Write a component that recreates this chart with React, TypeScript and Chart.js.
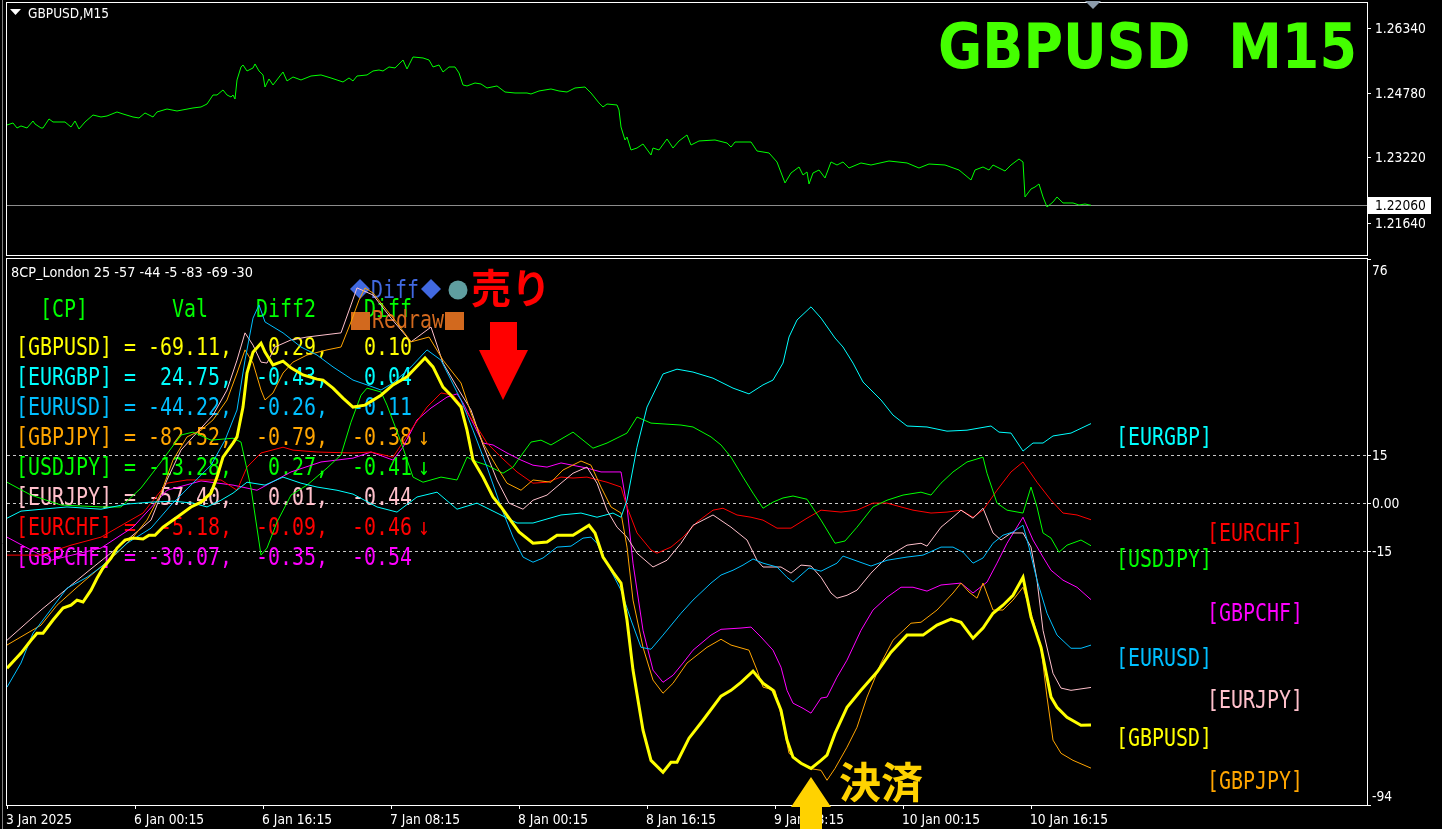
import React, { useEffect, useRef } from 'react';
import { Chart, registerables } from 'chart.js';

Chart.register(...registerables);

// ---------------- data ----------------
const xTickBars = [0, 64, 128, 192, 256, 320, 384, 448, 512];
const xTickLabels = ['3 Jan 2025', '6 Jan 00:15', '6 Jan 16:15', '7 Jan 08:15', '8 Jan 00:15', '8 Jan 16:15', '9 Jan 08:15', '10 Jan 00:15', '10 Jan 16:15'];
const priceTicks = [1.2634, 1.2478, 1.2322, 1.2164];
const currentPrice = 1.2206;
const indicatorTicks = [76, 15, 0, -15, -94];
const indicatorTickLabels = ['76', '15', '0.00', '-15', '-94'];
const levelValues = [15, 0, -15];

const pricePts = [[0,1.24002],[3,1.24050],[5,1.23929],[7,1.23978],[10,1.23929],[13,1.24098],[14,1.24026],[17,1.23929],[18,1.23929],[21,1.24147],[23,1.24074],[29,1.24074],[32,1.23953],[34,1.24098],[36,1.23905],[39,1.24074],[43,1.24243],[47,1.24195],[50,1.24219],[55,1.24316],[58,1.24268],[63,1.24195],[66,1.24171],[69,1.24292],[73,1.24195],[75,1.24316],[80,1.24388],[85,1.24340],[93,1.24413],[97,1.24437],[100,1.24509],[103,1.24727],[105,1.24727],[108,1.24848],[110,1.24727],[112,1.24679],[113,1.24727],[114,1.24630],[115,1.25090],[117,1.25404],[118,1.25452],[120,1.25307],[123,1.25380],[124,1.25477],[126,1.25307],[128,1.25211],[129,1.24920],[131,1.25114],[133,1.24969],[138,1.25283],[140,1.25066],[143,1.25162],[147,1.25090],[152,1.25186],[157,1.25211],[162,1.25138],[168,1.25041],[171,1.25138],[173,1.25066],[175,1.25186],[180,1.25211],[183,1.25307],[186,1.25331],[188,1.25307],[191,1.25404],[194,1.25380],[198,1.25573],[200,1.25356],[203,1.25646],[208,1.25622],[211,1.25573],[213,1.25404],[216,1.25452],[218,1.25283],[221,1.25404],[224,1.25404],[226,1.25259],[228,1.24969],[230,1.24945],[234,1.25017],[237,1.24993],[240,1.24896],[245,1.24945],[249,1.24799],[254,1.24775],[260,1.24775],[262,1.24751],[266,1.24824],[272,1.24872],[276,1.24824],[280,1.24799],[284,1.24896],[289,1.24920],[292,1.24775],[296,1.24534],[298,1.24437],[300,1.24509],[305,1.24485],[306,1.24364],[307,1.23953],[309,1.23639],[310,1.23711],[312,1.23397],[315,1.23445],[318,1.23542],[322,1.23276],[323,1.23445],[326,1.23397],[330,1.23663],[333,1.23445],[336,1.23615],[340,1.23760],[342,1.23518],[346,1.23615],[354,1.23639],[360,1.23566],[362,1.23469],[364,1.23590],[372,1.23590],[375,1.23373],[381,1.23325],[385,1.23107],[389,1.22599],[392,1.22841],[396,1.22986],[398,1.22793],[400,1.22865],[401,1.22575],[403,1.22841],[406,1.22913],[409,1.22720],[412,1.23107],[415,1.23034],[418,1.23107],[421,1.22962],[427,1.23083],[432,1.23034],[441,1.23131],[450,1.23083],[456,1.22962],[461,1.23058],[469,1.23034],[476,1.22913],[479,1.22793],[482,1.22672],[484,1.22913],[488,1.22986],[491,1.22913],[493,1.23034],[499,1.22889],[502,1.23034],[506,1.23179],[508,1.23107],[509,1.22261],[512,1.22454],[514,1.22502],[516,1.22575],[518,1.22261],[520,1.22019],[523,1.22140],[525,1.22261],[528,1.22116],[533,1.22116],[536,1.22067],[539,1.22091],[542,1.22060]];

const gbpusd = [[0,-51.4],[7,-46.7],[12,-42.7],[15,-40.5],[18,-40.5],[23,-36.4],[28,-32.7],[32,-31.8],[35,-30.2],[38,-30.8],[42,-27.1],[45,-23.4],[48,-20.2],[52,-17.1],[55,-14.0],[59,-11.5],[63,-10.9],[68,-11.2],[71,-10.0],[74,-10.0],[78,-7.5],[85,-4.4],[92,-1.2],[97,0.3],[102,3.1],[105,8.1],[108,14.3],[113,18.7],[115,20.6],[118,29.9],[120,40.5],[123,47.0],[127,49.8],[129,47.0],[133,43.0],[138,44.2],[142,42.1],[148,39.9],[155,38.6],[158,38.3],[163,35.8],[168,32.7],[173,29.9],[179,30.5],[187,33.6],[193,36.8],[200,39.3],[209,45.2],[213,42.4],[218,36.1],[222,33.6],[227,29.9],[230,22.7],[233,13.4],[238,8.1],[243,1.9],[247,-1.2],[251,-4.7],[256,-9.0],[263,-12.5],[270,-12.1],[275,-10.0],[283,-10.0],[291,-6.9],[294,-9.3],[298,-16.8],[303,-21.5],[307,-24.9],[310,-36.4],[313,-52.0],[318,-70.7],[322,-80.1],[328,-83.8],[332,-80.7],[335,-80.7],[341,-73.2],[348,-67.6],[357,-60.1],[362,-58.3],[367,-55.8],[373,-52.3],[378,-56.1],[383,-58.3],[387,-64.5],[390,-73.8],[393,-79.1],[397,-81.0],[402,-82.6],[407,-80.1],[410,-78.5],[414,-71.7],[420,-63.6],[427,-58.3],[435,-52.6],[442,-46.4],[450,-41.1],[458,-41.1],[465,-38.0],[472,-36.1],[477,-37.1],[483,-42.1],[488,-38.9],[493,-34.3],[498,-31.8],[503,-28.7],[508,-23.1],[512,-35.5],[517,-44.9],[522,-60.4],[525,-63.6],[530,-66.7],[537,-69.2],[542,-69.11]];

const eurgbp = [[0,-4.7],[7,-2.5],[30,-1.2],[47,-1.9],[60,-0.3],[72,0.3],[83,0.6],[93,0],[100,-1.2],[107,0.9],[113,3.1],[120,6.5],[129,5.6],[138,8.1],[147,6.2],[155,5.0],[165,4.0],[173,2.8],[185,-1.2],[195,-2.8],[205,1.9],[215,3.4],[225,-1.9],[235,0],[245,-3.1],[255,-6.2],[263,-6.2],[277,-3.7],[287,-3.1],[295,-4.4],[303,-3.1],[307,-4.4],[310,0.9],[315,17.4],[320,29.9],[328,40.2],[335,41.7],[343,40.8],[353,38.9],[363,35.8],[371,34.0],[378,36.8],[383,38.3],[388,43.6],[391,51.7],[395,57.0],[402,61.1],[407,57.6],[414,51.4],[418,48.6],[423,43.6],[428,37.7],[437,32.1],[443,27.4],[450,24.0],[460,23.7],[470,22.4],[480,22.7],[492,24.0],[496,22.1],[502,21.8],[508,16.2],[513,18.7],[518,18.7],[523,20.9],[532,21.8],[542,24.75]];

const eurusd = [[0,-57.3],[7,-49.8],[13,-40.5],[30,-26.5],[40,-23.1],[47,-19.9],[60,-12.5],[72,-7.8],[82,-0.6],[92,5.6],[102,11.8],[109,19.6],[115,29.0],[119,44.5],[123,57.6],[126,61.7],[129,56.4],[138,53.0],[147,48.6],[155,46.1],[163,42.4],[173,38.3],[180,36.8],[187,35.2],[193,37.4],[202,42.4],[210,47.7],[217,44.5],[222,38.3],[227,32.1],[233,22.7],[240,11.2],[247,-1.2],[253,-10.6],[258,-16.8],[263,-18.4],[268,-17.1],[275,-13.7],[282,-13.4],[288,-10.9],[292,-10.6],[295,-12.5],[300,-18.7],[307,-27.1],[312,-36.4],[317,-44.9],[322,-45.5],[328,-41.1],[337,-34.3],[343,-30.2],[352,-24.9],[357,-22.4],[363,-20.9],[368,-19.3],[373,-17.4],[378,-18.7],[385,-19.9],[390,-23.1],[393,-24.6],[397,-22.4],[401,-20.2],[407,-21.2],[415,-18.7],[418,-16.5],[432,-19.6],[440,-17.8],[450,-16.8],[458,-16.2],[467,-13.7],[473,-13.7],[478,-15.3],[483,-18.7],[488,-17.1],[493,-12.5],[498,-10.0],[503,-9.0],[508,-6.9],[511,-13.7],[515,-24.0],[520,-34.3],[525,-41.1],[532,-45.2],[537,-45.2],[542,-44.22]];

const gbpjpy = [[0,-44.2],[17,-38.0],[25,-31.8],[35,-26.2],[45,-20.9],[55,-15.6],[63,-10.6],[70,-5.3],[77,3.1],[83,13.4],[90,20.6],[97,22.7],[103,25.9],[110,32.1],[115,40.5],[119,47.7],[123,43.6],[127,35.2],[129,32.1],[133,34.3],[138,40.5],[143,43.9],[150,46.1],[160,47.7],[167,48.6],[172,56.4],[176,63.2],[179,67.0],[183,65.4],[195,56.1],[202,50.2],[211,51.7],[218,44.5],[227,37.4],[232,28.0],[238,18.7],[245,11.2],[250,6.2],[257,4.0],[263,7.2],[272,6.5],[278,10.3],[287,13.1],[292,11.8],[297,5.0],[302,-1.2],[307,-3.1],[310,-13.7],[313,-30.2],[318,-44.9],[323,-55.1],[328,-59.2],[333,-56.1],[340,-49.8],[350,-44.9],[357,-42.4],[362,-44.2],[371,-45.8],[375,-52.0],[378,-57.3],[384,-58.3],[388,-68.5],[391,-77.9],[397,-80.7],[401,-82.6],[407,-83.2],[410,-86.3],[414,-82.6],[420,-76.0],[425,-69.8],[430,-60.4],[437,-49.8],[443,-42.7],[452,-37.4],[457,-37.1],[465,-33.3],[473,-28.0],[477,-24.9],[481,-27.7],[485,-29.6],[488,-24.9],[493,-33.3],[498,-33.3],[503,-30.2],[508,-26.2],[512,-34.3],[517,-44.9],[520,-60.4],[523,-73.8],[527,-77.9],[533,-80.1],[542,-82.52]];

const usdjpy = [[0,6.5],[12,2.5],[27,-0.6],[47,-1.2],[57,-1.2],[67,4.7],[77,12.8],[87,21.2],[93,22.1],[102,19.6],[113,20.2],[117,19.0],[122,4.7],[127,-16.2],[130,-14.0],[135,-5.9],[142,2.5],[150,5.6],[160,10.9],[167,15.0],[172,25.2],[177,33.6],[180,35.8],[187,34.6],[190,30.5],[197,19.0],[203,8.1],[208,6.5],[217,8.1],[225,7.2],[230,14.3],[235,12.8],[240,11.8],[248,9.3],[253,11.2],[258,15.6],[262,19.0],[267,19.6],[272,18.1],[283,22.1],[293,17.1],[300,18.7],[310,21.8],[315,26.8],[322,24.9],[337,24.3],[343,23.7],[352,20.6],[357,18.1],[362,14.3],[368,8.1],[373,3.1],[378,-1.6],[383,0.3],[388,1.6],[393,2.2],[400,1.2],[407,-5.3],[414,-12.5],[419,-11.8],[425,-7.5],[433,-1.2],[440,0.9],[448,2.5],[457,3.4],[462,2.5],[467,6.2],[473,9.7],[480,12.8],[488,14.3],[490,9.3],[495,0],[500,-2.2],[508,-3.1],[512,5.0],[515,-1.2],[518,-9.3],[522,-10.9],[526,-15.3],[530,-13.1],[537,-11.5],[542,-13.28]];

const eurjpy = [[0,-42.7],[17,-33.3],[40,-21.5],[60,-11.5],[72,-5.3],[80,7.2],[87,16.5],[93,20.6],[103,27.4],[110,35.2],[115,44.5],[119,53.0],[123,49.2],[127,43.9],[130,43.6],[134,48.6],[142,50.8],[150,51.7],[167,53.0],[172,61.7],[175,67.0],[183,64.8],[192,57.6],[202,50.2],[212,54.8],[218,43.6],[225,36.1],[232,29.0],[238,18.1],[245,7.2],[251,0],[258,-1.9],[263,0.9],[270,2.5],[277,6.2],[283,9.3],[290,11.2],[295,6.2],[300,-2.2],[305,-7.5],[310,-10.6],[315,-15.6],[323,-19.9],[330,-17.8],[337,-12.5],[343,-6.9],[353,-3.7],[362,-7.5],[370,-11.5],[375,-17.8],[378,-19.9],[387,-19.9],[392,-21.8],[397,-19.3],[402,-19.6],[407,-23.1],[412,-28.0],[415,-29.6],[420,-28.7],[425,-27.1],[432,-21.8],[440,-16.8],[450,-13.1],[457,-12.5],[460,-13.4],[467,-7.5],[473,-4.4],[477,-2.2],[483,-4.7],[488,-1.6],[493,-9.3],[497,-11.5],[502,-9.3],[508,-9.3],[512,-13.7],[515,-24.0],[518,-39.6],[523,-53.0],[527,-57.6],[532,-58.3],[542,-57.40]];

const eurchf = [[0,-16.2],[17,-16.2],[32,-13.1],[47,-10.6],[68,-3.1],[80,6.2],[90,7.2],[107,7.2],[115,4.0],[120,11.2],[127,15.6],[138,17.4],[143,16.5],[155,15.9],[173,15.6],[182,15.9],[193,14.3],[203,23.7],[210,29.9],[217,34.3],[223,33.6],[228,29.9],[235,23.7],[240,18.7],[247,14.3],[255,9.7],[263,6.2],[270,6.5],[277,8.1],[283,7.8],[290,8.1],[300,6.5],[307,5.0],[310,-1.2],[315,-9.3],[322,-14.6],[325,-15.6],[332,-13.7],[338,-10.6],[345,-5.9],[353,-2.2],[358,-1.6],[365,-3.7],[372,-4.4],[378,-5.3],[385,-7.8],[392,-7.8],[400,-4.7],[407,-2.2],[417,-2.8],[425,-2.2],[433,0],[440,0],[447,-1.2],[453,-2.2],[462,-3.1],[470,-2.8],[477,-2.2],[483,-4.4],[488,-2.2],[495,4.0],[502,9.7],[508,12.8],[515,6.5],[522,0.9],[528,-3.1],[535,-3.7],[542,-5.18]];

const gbpchf = [[0,-10.6],[12,-14.6],[22,-17.8],[47,-14.0],[63,-7.5],[80,4.0],[97,6.9],[113,5.6],[125,4.0],[142,9.7],[157,12.8],[173,14.0],[182,15.9],[193,13.4],[198,17.4],[205,25.9],[212,29.6],[220,33.0],[225,34.0],[228,31.2],[233,24.9],[238,18.7],[243,18.1],[250,15.6],[257,13.4],[263,11.8],[270,11.2],[277,12.5],[290,10.9],[297,9.7],[307,9.7],[310,-1.2],[313,-18.7],[318,-39.6],[323,-52.0],[328,-55.8],[333,-53.6],[338,-49.8],[343,-45.8],[352,-41.1],[357,-39.3],[367,-38.9],[372,-38.6],[377,-41.7],[383,-45.8],[387,-51.1],[390,-58.3],[393,-62.3],[398,-63.9],[402,-65.4],[407,-60.7],[410,-60.4],[415,-54.2],[420,-48.9],[427,-39.6],[433,-33.3],[440,-29.3],[447,-26.2],[453,-26.2],[460,-27.4],[467,-25.5],[477,-24.9],[483,-28.0],[490,-24.6],[495,-18.7],[500,-12.5],[508,-4.4],[513,-11.5],[518,-16.8],[522,-20.9],[528,-24.0],[535,-26.2],[542,-30.07]];

const pairNames = ['GBPUSD', 'EURGBP', 'EURUSD', 'GBPJPY', 'USDJPY', 'EURJPY', 'EURCHF', 'GBPCHF'];
const pairSeries = [gbpusd, eurgbp, eurusd, gbpjpy, usdjpy, eurjpy, eurchf, gbpchf];
const pairColors = ['#FFFF00', '#00FFFF', '#00BFFF', '#FFA500', '#00FF00', '#FFC0CB', '#FF0000', '#FF00FF'];
const pairWidths = [3, 1, 1, 1, 1, 1, 1, 1];
const diff2Values = [0.29, -0.43, -0.26, -0.79, 0.27, 0.01, -0.09, -0.35];
const diffValues = [0.10, 0.04, -0.11, -0.38, -0.41, -0.44, -0.46, -0.54];
const diffDownArrow = [false, false, false, true, true, false, true, false];
const sellSignal = { bar: 248, value: 32.1 };
const closeSignal = { bar: 402, value: -85.3 };

// ---------------- drawing helpers ----------------
const SANS = '"DejaVu Sans", "Liberation Sans", sans-serif';
const MONO = '"DejaVu Sans Mono", "Liberation Mono", monospace';
const CJK = '"Noto Sans CJK JP", "Noto Sans CJK SC", sans-serif';
const CELL = 12;
const TOP_OFF = 258; // bottom canvas offset

function sansText(ctx: any, text: string, x: number, y: number, color = '#FFFFFF', px = 14, sx = 0.88) {
  ctx.save();
  ctx.font = `${px}px ${SANS}`;
  ctx.fillStyle = color;
  ctx.textAlign = 'left';
  ctx.textBaseline = 'alphabetic';
  ctx.translate(x, y);
  ctx.scale(sx, 1);
  ctx.fillText(text, 0, 0);
  ctx.restore();
}

function fitText(ctx: any, text: string, x: number, y: number, width: number, font: string, color: string) {
  ctx.save();
  ctx.font = font;
  ctx.fillStyle = color;
  ctx.textAlign = 'left';
  ctx.textBaseline = 'alphabetic';
  const w = ctx.measureText(text).width;
  ctx.translate(x, y);
  ctx.scale(width / w, 1);
  ctx.fillText(text, 0, 0);
  ctx.restore();
}

function monoText(ctx: any, text: string, x0: number, baseline: number, color: string) {
  ctx.save();
  ctx.font = `24px ${MONO}`;
  ctx.fillStyle = color;
  ctx.textAlign = 'center';
  ctx.textBaseline = 'alphabetic';
  for (let i = 0; i < text.length; i++) {
    const ch = text[i];
    if (ch === ' ') continue;
    ctx.save();
    ctx.translate(x0 + i * CELL + CELL / 2, baseline);
    ctx.scale(0.83, 1);
    ctx.fillText(ch, 0, 0);
    ctx.restore();
  }
  ctx.restore();
}

function fmt(v: number, w: number) {
  return v.toFixed(2).padStart(w, ' ');
}

// ---------------- plugins ----------------
const topPlugin = {
  id: 'mt4Top',
  beforeDraw(chart: any) {
    const { ctx, width, height } = chart;
    ctx.save();
    ctx.fillStyle = '#000000';
    ctx.fillRect(0, 0, width, height);
    ctx.restore();
  },
  beforeDatasetsDraw(chart: any) {
    const { ctx, chartArea: a, scales } = chart;
    const py = Math.round(scales.y.getPixelForValue(currentPrice)) + 0.5;
    ctx.save();
    ctx.strokeStyle = '#8C8C8C';
    ctx.lineWidth = 1;
    ctx.beginPath();
    ctx.moveTo(a.left, py);
    ctx.lineTo(a.right, py);
    ctx.stroke();
    ctx.restore();
  },
  afterDraw(chart: any) {
    const { ctx, chartArea: a, scales } = chart;
    ctx.save();
    // left gray strip
    ctx.strokeStyle = '#808080';
    ctx.beginPath(); ctx.moveTo(2.5, 0); ctx.lineTo(2.5, chart.height); ctx.stroke();
    // frame
    ctx.strokeStyle = '#FFFFFF';
    ctx.lineWidth = 1;
    ctx.strokeRect(a.left - 0.5, a.top - 0.5, a.right - a.left + 1, a.bottom - a.top);
    // price ticks + labels
    priceTicks.forEach((p) => {
      const py = Math.round(scales.y.getPixelForValue(p));
      ctx.beginPath(); ctx.moveTo(a.right, py + 0.5); ctx.lineTo(a.right + 4, py + 0.5); ctx.stroke();
      sansText(ctx, p.toFixed(5), a.right + 8, py + 5);
    });
    // current price box
    const cy = Math.round(scales.y.getPixelForValue(currentPrice));
    ctx.fillStyle = '#FFFFFF';
    ctx.fillRect(a.right + 1, cy - 8, 63, 17);
    sansText(ctx, currentPrice.toFixed(5), a.right + 8, cy + 5, '#000000');
    // symbol caption
    ctx.fillStyle = '#FFFFFF';
    ctx.beginPath(); ctx.moveTo(10, 9); ctx.lineTo(21, 9); ctx.lineTo(15.5, 15); ctx.closePath(); ctx.fill();
    fitText(ctx, 'GBPUSD,M15', 28, 18, 81, `14px ${SANS}`, '#FFFFFF');
    // big title
    fitText(ctx, 'GBPUSD  M15', 938, 68, 419, `bold 63px ${SANS}`, '#44FF00');
    // chart shift marker
    const sx = scales.x.getPixelForValue(pricePts[pricePts.length - 1][0] + 1);
    ctx.fillStyle = '#8C9CAC';
    ctx.beginPath(); ctx.moveTo(sx - 8, 1); ctx.lineTo(sx + 8, 1); ctx.lineTo(sx, 9); ctx.closePath(); ctx.fill();
    ctx.restore();
  },
};

const bottomPlugin = {
  id: 'mt4Bottom',
  beforeDraw(chart: any) {
    const { ctx, width, height } = chart;
    ctx.save();
    ctx.fillStyle = '#000000';
    ctx.fillRect(0, 0, width, height);
    ctx.restore();
  },
  beforeDatasetsDraw(chart: any) {
    const { ctx, chartArea: a, scales } = chart;
    ctx.save();
    ctx.strokeStyle = '#C8C8C8';
    ctx.lineWidth = 1;
    ctx.setLineDash([3, 3]);
    levelValues.forEach((lv) => {
      const py = Math.round(scales.y.getPixelForValue(lv)) + 0.5;
      ctx.beginPath(); ctx.moveTo(a.left, py); ctx.lineTo(a.right + 4, py); ctx.stroke();
    });
    ctx.setLineDash([]);
    // indicator caption
    fitText(ctx, '8CP_London 25 -57 -44 -5 -83 -69 -30', 11, 277 - TOP_OFF, 242, `14px ${SANS}`, '#FFFFFF');
    // table
    monoText(ctx, '  [CP]       Val    Diff2    Diff', 16, 317 - TOP_OFF, '#00FF00');
    pairNames.forEach((name, i) => {
      const s = pairSeries[i];
      const last = s[s.length - 1][1];
      const line = `[${name}] = ${fmt(last, 6)},  ${fmt(diff2Values[i], 5)},  ${fmt(diffValues[i], 5)}`;
      const bl = 355 - TOP_OFF + i * 30;
      monoText(ctx, line, 16, bl, pairColors[i]);
      if (diffDownArrow[i]) {
        ctx.save();
        ctx.font = `24px ${MONO}`;
        ctx.fillStyle = pairColors[i];
        ctx.textAlign = 'center';
        ctx.translate(16 + 33 * CELL + CELL, bl);
        ctx.scale(0.8, 1);
        ctx.fillText('\u2193', 0, 0);
        ctx.restore();
      }
    });
    // ◆Diff◆ ●
    const cy = 289 - TOP_OFF;
    ctx.fillStyle = '#4169E1';
    [360, 431].forEach((cx) => {
      ctx.beginPath(); ctx.moveTo(cx, cy - 10); ctx.lineTo(cx + 10, cy); ctx.lineTo(cx, cy + 10); ctx.lineTo(cx - 10, cy); ctx.closePath(); ctx.fill();
    });
    monoText(ctx, 'Diff', 371, 298 - TOP_OFF, '#4169E1');
    ctx.fillStyle = '#5F9EA0';
    ctx.beginPath(); ctx.arc(458, cy + 1, 9.5, 0, Math.PI * 2); ctx.fill();
    // ■Redraw■
    ctx.fillStyle = '#D2691E';
    ctx.fillRect(351, 312 - TOP_OFF, 19, 18);
    ctx.fillRect(445, 312 - TOP_OFF, 19, 18);
    monoText(ctx, 'Redraw', 372, 328 - TOP_OFF, '#D2691E');
    ctx.restore();
  },
  afterDraw(chart: any) {
    const { ctx, chartArea: a, scales } = chart;
    const xs = scales.x, ys = scales.y;
    ctx.save();
    // left gray strip
    ctx.strokeStyle = '#808080';
    ctx.lineWidth = 1;
    ctx.beginPath(); ctx.moveTo(2.5, 0); ctx.lineTo(2.5, chart.height); ctx.stroke();
    // frame
    ctx.strokeStyle = '#FFFFFF';
    ctx.strokeRect(a.left - 0.5, a.top - 0.5, a.right - a.left + 1, a.bottom - a.top + 1);
    // y labels
    indicatorTicks.forEach((v, i) => {
      const py = Math.round(ys.getPixelForValue(v));
      const cy = Math.min(Math.max(py, a.top + 11), a.bottom - 9);
      ctx.beginPath(); ctx.moveTo(a.right, py + 0.5); ctx.lineTo(a.right + 4, py + 0.5); ctx.stroke();
      sansText(ctx, indicatorTickLabels[i], a.right + 5, cy + 5);
    });
    // x ticks + labels
    xTickBars.forEach((b, i) => {
      const px = Math.round(xs.getPixelForValue(b));
      ctx.beginPath(); ctx.moveTo(px + 0.5, a.bottom); ctx.lineTo(px + 0.5, a.bottom + 4); ctx.stroke();
      sansText(ctx, xTickLabels[i], px - 1, 824 - TOP_OFF);
    });
    // right-side pair labels
    const order = pairNames.map((_, i) => i).sort((p, q) => pairSeries[q][pairSeries[q].length - 1][1] - pairSeries[p][pairSeries[p].length - 1][1]);
    order.forEach((idx, rank) => {
      const s = pairSeries[idx];
      const py = ys.getPixelForValue(s[s.length - 1][1]) + 12;
      const x0 = rank % 2 === 0 ? 1116 : 1207;
      monoText(ctx, `[${pairNames[idx]}]`, x0, py + 9, pairColors[idx]);
    });
    // sell arrow
    const sx = xs.getPixelForValue(sellSignal.bar);
    const sy = ys.getPixelForValue(sellSignal.value);
    ctx.fillStyle = '#FF0000';
    ctx.beginPath();
    ctx.moveTo(sx - 13, sy - 78); ctx.lineTo(sx + 14, sy - 78); ctx.lineTo(sx + 14, sy - 50);
    ctx.lineTo(sx + 25, sy - 50); ctx.lineTo(sx, sy); ctx.lineTo(sx - 24, sy - 50); ctx.lineTo(sx - 13, sy - 50);
    ctx.closePath(); ctx.fill();
    ctx.font = `bold 40px ${CJK}`;
    ctx.textAlign = 'left';
    ctx.textBaseline = 'alphabetic';
    ctx.fillText('売り', 471, 303 - TOP_OFF);
    // close arrow
    const cx = xs.getPixelForValue(closeSignal.bar);
    const cy = ys.getPixelForValue(closeSignal.value);
    ctx.fillStyle = '#FFD200';
    ctx.beginPath();
    ctx.moveTo(cx, cy); ctx.lineTo(cx + 20, cy + 30); ctx.lineTo(cx + 11, cy + 30); ctx.lineTo(cx + 11, cy + 70);
    ctx.lineTo(cx - 11, cy + 70); ctx.lineTo(cx - 11, cy + 30); ctx.lineTo(cx - 20, cy + 30);
    ctx.closePath(); ctx.fill();
    ctx.font = `bold 42px ${CJK}`;
    ctx.fillText('決済', 839, 798 - TOP_OFF);
    ctx.restore();
  },
};

// ---------------- component ----------------
export default function App() {
  const topRef = useRef<HTMLCanvasElement>(null);
  const botRef = useRef<HTMLCanvasElement>(null);

  useEffect(() => {
    document.body.style.margin = '0';
    document.body.style.background = '#000';
    const common = {
      responsive: false,
      animation: false as const,
      devicePixelRatio: 1,
      events: [] as any[],
      plugins: { legend: { display: false }, tooltip: { enabled: false } },
    };
    const top = new Chart(topRef.current as HTMLCanvasElement, {
      type: 'line',
      data: {
        datasets: [{
          data: pricePts.map(([x, y]) => ({ x, y })),
          borderColor: '#00FF00',
          borderWidth: 1,
          pointRadius: 0,
          tension: 0,
        }],
      },
      options: {
        ...common,
        layout: { padding: { left: 7, right: 75, top: 3, bottom: 2 } },
        scales: {
          x: { type: 'linear', min: 0, max: 680, display: false },
          y: { type: 'linear', min: 1.20834, max: 1.26951, display: false },
        },
      },
      plugins: [topPlugin],
    } as any);
    const bot = new Chart(botRef.current as HTMLCanvasElement, {
      type: 'line',
      data: {
        datasets: pairSeries.map((s, i) => ({
          label: pairNames[i],
          data: s.map(([x, y]) => ({ x, y })),
          borderColor: pairColors[i],
          borderWidth: pairWidths[i],
          pointRadius: 0,
          tension: 0,
        })),
      },
      options: {
        ...common,
        layout: { padding: { left: 7, right: 75, top: 1, bottom: 24 } },
        scales: {
          x: { type: 'linear', min: 0, max: 680, display: false },
          y: { type: 'linear', min: -94, max: 76, display: false },
        },
      },
      plugins: [bottomPlugin],
    } as any);
    return () => { top.destroy(); bot.destroy(); };
  }, []);

  return (
    <div style={{ position: 'fixed', left: 0, top: 0, width: 1442, height: 829, background: '#000', overflow: 'hidden' }}>
      <canvas ref={topRef} width={1442} height={258} style={{ position: 'absolute', left: 0, top: 0, width: 1442, height: 258 }} />
      <canvas ref={botRef} width={1442} height={571} style={{ position: 'absolute', left: 0, top: TOP_OFF, width: 1442, height: 571 }} />
    </div>
  );
}
